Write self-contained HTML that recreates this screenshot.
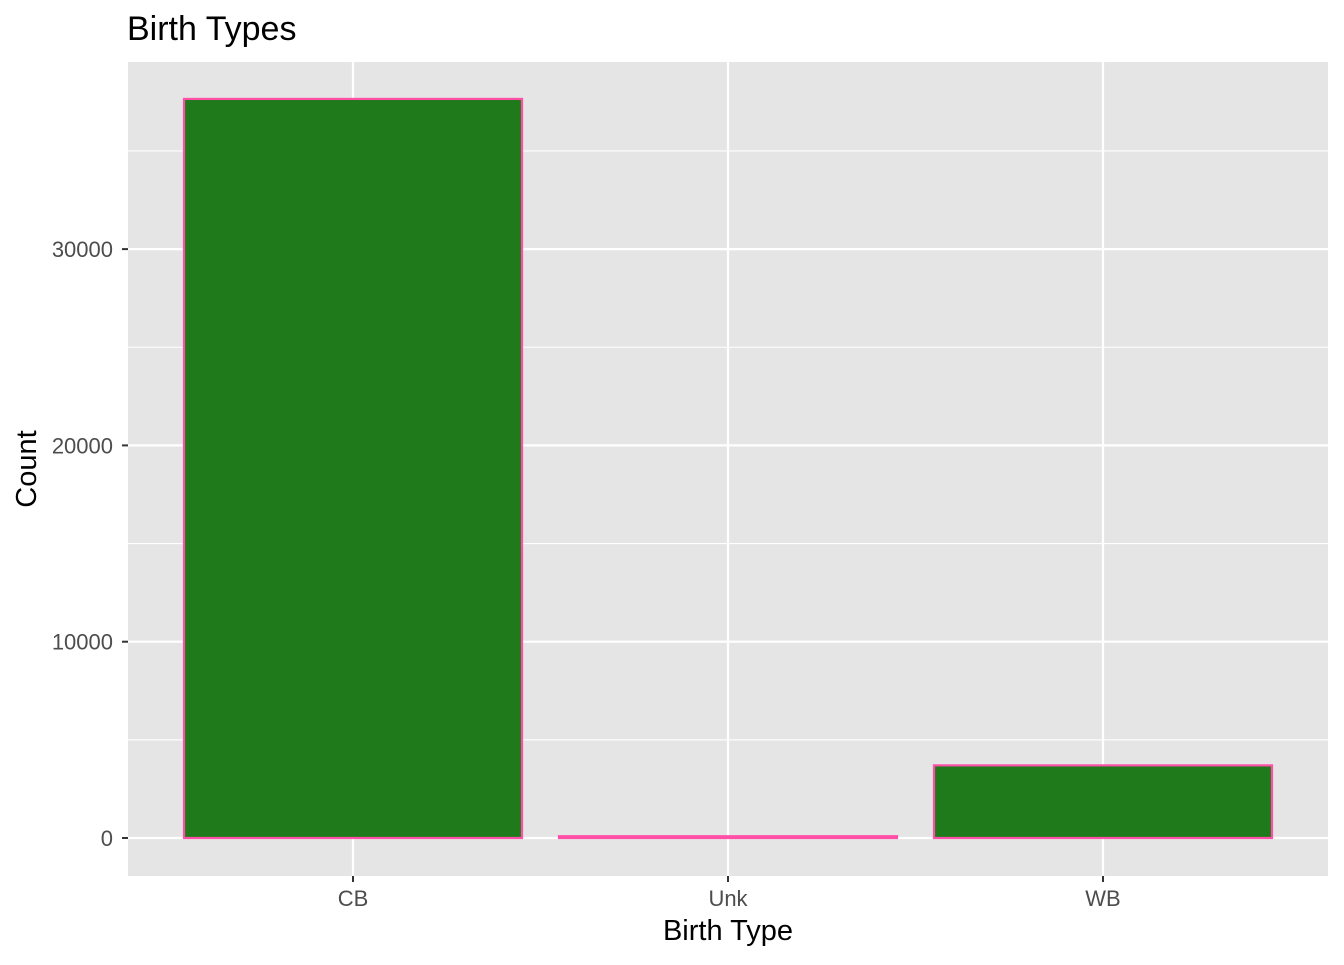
<!DOCTYPE html>
<html><head><meta charset="utf-8"><style>
body{margin:0;background:#fff;}
svg text{font-family:"Liberation Sans",Arial,sans-serif;}
</style></head><body>
<svg id="chart" width="1344" height="960" xmlns="http://www.w3.org/2000/svg">
<text x="127" y="40" font-size="34" fill="#000">Birth Types</text>
<rect x="128" y="62" width="1200" height="814" fill="#e5e5e5"/>
<g id="grid"></g>
<g id="bars"></g>
<g id="axes"></g>
<text x="728" y="940" font-size="29" text-anchor="middle" fill="#000">Birth Type</text>
<text transform="translate(36,469) rotate(-90)" font-size="29" text-anchor="middle" fill="#000">Count</text>
</svg>
<script>
const categories = ["CB","Unk","WB"];
const counts = [37650, 90, 3700];
const yTicks = [0,10000,20000,30000];
const yTickLabels = ["0","10000","20000","30000"];
const NS="http://www.w3.org/2000/svg";
const y0=838, pxPer=196.3/10000;
function yScale(v){return y0-v*pxPer;}
function xScale(i){return 353+i*375;}
function mk(tag,attrs,parent){const e=document.createElementNS(NS,tag);for(const k in attrs)e.setAttribute(k,attrs[k]);parent.appendChild(e);return e;}
const grid=document.getElementById('grid'),bars=document.getElementById('bars'),axes=document.getElementById('axes');
for(let i=0;i<yTicks.length;i++){
  const m=yTicks[i]+5000;const ym=yScale(m);
  if(ym>62){const l=mk('line',{x1:128,x2:1328,y1:ym,y2:ym,stroke:'#fff','stroke-width':1.1},grid);
    
    }
  const y=yScale(yTicks[i]);
  const g=mk('line',{x1:128,x2:1328,y1:y,y2:y,stroke:'#fff','stroke-width':2.2},grid);
  
  
  const t=mk('line',{x1:122,x2:128,y1:y,y2:y,stroke:'#333','stroke-width':2},axes);
  
  
  const tx=mk('text',{x:113,y:y+8,'font-size':22,'text-anchor':'end',fill:'#4d4d4d'},axes);
  tx.textContent=yTickLabels[i];
  
  
}
for(let i=0;i<categories.length;i++){
  const x=xScale(i);
  const g=mk('line',{x1:x,x2:x,y1:62,y2:876,stroke:'#fff','stroke-width':2.2},grid);
  
  
  const yt=yScale(counts[i]);
  const r=mk('rect',{x:x-169,y:yt,width:338,height:Math.max(y0-yt,0.5),fill:'#1f7a1c',stroke:'#ff4fa6','stroke-width':2.2},bars);
  
  
  const t=mk('line',{x1:x,x2:x,y1:876,y2:882,stroke:'#333','stroke-width':2},axes);
  
  
  const tx=mk('text',{x:x,y:906,'font-size':22,'text-anchor':'middle',fill:'#4d4d4d'},axes);
  tx.textContent=categories[i];
  
  
}
</script>
</body></html>
